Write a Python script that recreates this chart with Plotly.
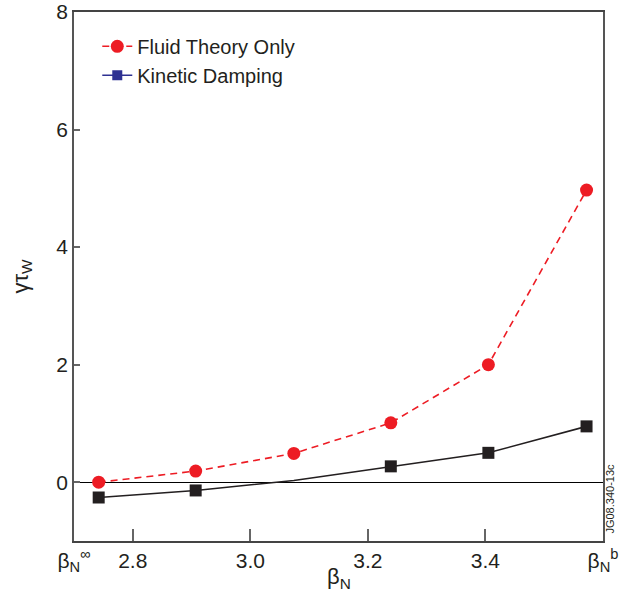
import plotly.graph_objects as go

# data
beta_n = [2.742, 2.907, 3.074, 3.239, 3.405, 3.572]
fluid = [0.0, 0.19, 0.49, 1.01, 2.0, 4.97]
kinetic = [-0.26, -0.14, 0.03, 0.27, 0.50, 0.95]
kinetic_marker = [12, 12, 0, 12, 12, 12]

x_tickvals = [2.7, 2.8, 3.0, 3.2, 3.4, 3.6]
x_ticktext = ["β<sub>N</sub><sup>∞</sup>", "2.8", "3.0", "3.2", "3.4", "β<sub>N</sub><sup>b</sup>"]
y_tickvals = [0, 2, 4, 6, 8]

RED = "#ed1c24"
BLACK = "#231f20"
NAVY = "#2e3192"
FONT = "Liberation Sans, Arial, sans-serif"

fig = go.Figure()

fig.add_trace(go.Scatter(
    x=beta_n, y=fluid, mode="lines+markers", name="Fluid Theory Only",
    line=dict(color=RED, width=1.6, dash="7px,5px"),
    marker=dict(color=RED, size=13, symbol="circle", opacity=1),
    showlegend=True,
))
fig.add_trace(go.Scatter(
    x=beta_n, y=kinetic, mode="lines+markers", name="Kinetic Damping",
    line=dict(color=BLACK, width=1.6),
    marker=dict(color=BLACK, size=kinetic_marker, symbol="square", opacity=1,
                line=dict(width=0)),
    showlegend=False,
))
# legend entry for kinetic damping (legend shows it in navy)
fig.add_trace(go.Scatter(
    x=[None], y=[None], mode="lines+markers", name="Kinetic Damping",
    line=dict(color=NAVY, width=1.6),
    marker=dict(color=NAVY, size=10, symbol="square", opacity=1),
    showlegend=True,
))

fig.update_layout(
    width=628, height=600,
    margin=dict(l=74, r=25, t=12, b=59, autoexpand=False),
    paper_bgcolor="white", plot_bgcolor="white",
    font=dict(family=FONT, size=21, color="#231f20"),
    showlegend=True,
    legend=dict(x=0.044, y=0.972, xanchor="left", yanchor="top",
                bgcolor="rgba(0,0,0,0)", font=dict(size=20),
                tracegroupgap=0, itemwidth=30),
    xaxis=dict(
        range=[2.7, 3.6], tickmode="array", tickvals=x_tickvals, ticktext=x_ticktext,
        ticks="inside", ticklen=12, tickwidth=1.5, tickcolor="#666",
        showline=True, linecolor="#444", linewidth=1.5, mirror=True,
        showgrid=False, zeroline=False, automargin=False, ticklabeloverflow="allow",
    ),
    yaxis=dict(
        range=[-1, 8], tickmode="array", tickvals=y_tickvals,
        ticks="inside", ticklen=6, tickwidth=1.5, tickcolor="#666",
        showline=True, linecolor="#555", linewidth=1.5, mirror=True,
        showgrid=False, zeroline=True, zerolinecolor="#000", zerolinewidth=1.2,
        automargin=False, ticklabeloverflow="allow",
    ),
    annotations=[
        dict(text="γτ<sub>W</sub>", xref="paper", yref="paper", x=-0.1, y=0.5,
             xanchor="center", yanchor="middle", textangle=-90, showarrow=False,
             font=dict(size=22)),
        dict(text="β<sub>N</sub>", xref="paper", yref="paper", x=0.5, y=-0.07,
             xanchor="center", yanchor="middle", showarrow=False, font=dict(size=22)),
        dict(text="JG08.340-13c", xref="paper", yref="paper", x=1.013, y=0.08,
             xanchor="center", yanchor="middle", textangle=-90, showarrow=False,
             font=dict(size=11)),
    ],
)

fig.write_html("out.html", config={"displayModeBar": False},
               post_script="document.body.style.margin='0';")
